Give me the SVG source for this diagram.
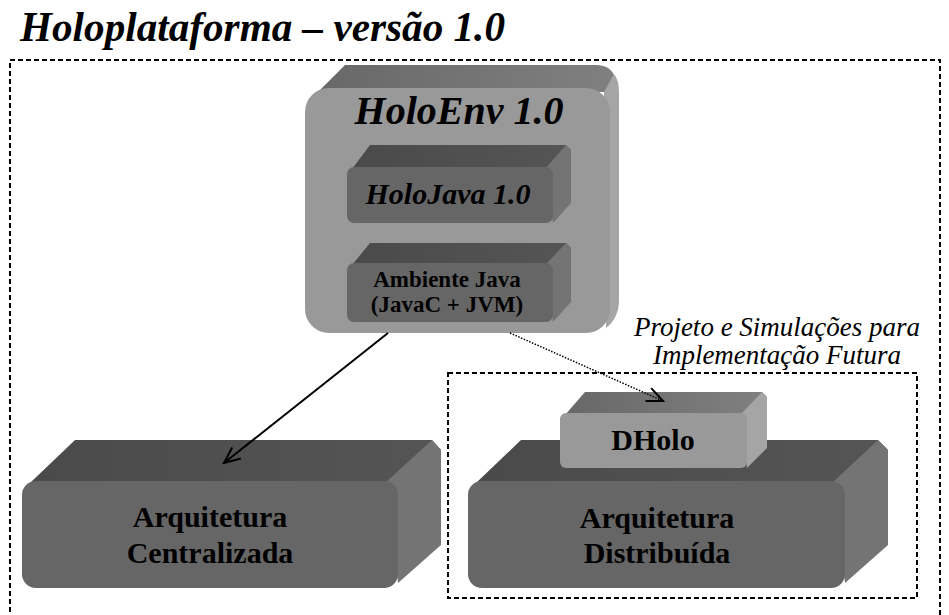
<svg xmlns="http://www.w3.org/2000/svg" width="949" height="615" viewBox="0 0 949 615">
<style>
.t{font-family:"Liberation Serif","Times New Roman",serif;fill:#000;text-anchor:middle}
.b{font-weight:bold}
.i{font-style:italic}
.dash{fill:none;stroke:#000;stroke-width:2;stroke-dasharray:5,3}
.light .f{fill:#999}.light .tp{fill:url(#gTopL)}.light .sd{fill:#a5a5a5}
.dark .f{fill:#666}.dark .tp{fill:url(#gTopD)}.dark .sd{fill:#747474}
</style>
<defs>
<linearGradient id="gTopL" x1="0" y1="0" x2="1" y2="0"><stop offset="0" stop-color="#686868"/><stop offset="1" stop-color="#808080"/></linearGradient>
<linearGradient id="gTopD" x1="0" y1="0" x2="1" y2="0"><stop offset="0" stop-color="#4a4a4a"/><stop offset="1" stop-color="#555"/></linearGradient>
<marker id="arr" viewBox="0 0 20 20" refX="18" refY="10" markerWidth="20" markerHeight="20" markerUnits="userSpaceOnUse" orient="auto"><path d="M2,3 L18,10 L2,17" fill="none" stroke="#000" stroke-width="2"/></marker>
</defs>
<rect width="949" height="615" fill="#fff"/>
<text class="t b i" x="20" y="41" font-size="42" style="text-anchor:start" textLength="485" lengthAdjust="spacingAndGlyphs">Holoplataforma – versão 1.0</text>
<rect class="dash" x="10" y="60" width="930" height="570"/>
<rect class="dash" x="448" y="373" width="469" height="225"/>

<g id="holoenv" class="light">
<path class="tp" d="M318,92 L345,65 L596,65 Q612,65 616,80 L612,92 Z"/>
<path class="sd" d="M604,92 L614,74 Q619,80 619,92 L619,300 Q619,318 606,328 Z"/>
<rect class="f" x="305" y="88" width="305" height="245" rx="24"/>
<text class="t b i" x="459" y="124" font-size="40">HoloEnv 1.0</text>
</g>
<g id="holojava" class="dark">
<polygon class="tp" points="352,169 370,145 566,145 571,150 553,169"/>
<polygon class="sd" points="545,169 566,145 571,150 571,203 553,223"/>
<rect class="f" x="347" y="167" width="206" height="56" rx="7"/>
<text class="t b i" x="448" y="204" font-size="30">HoloJava 1.0</text>
</g>
<g id="ambiente" class="dark">
<polygon class="tp" points="352,265 370,243 566,243 571,248 553,265"/>
<polygon class="sd" points="545,265 566,243 571,248 571,302 553,322"/>
<rect class="f" x="347" y="263" width="206" height="59" rx="7"/>
<text class="t b" x="447" y="287" font-size="23">Ambiente Java</text>
<text class="t b" x="447" y="312" font-size="23">(JavaC + JVM)</text>
</g>
<g id="centralizada" class="dark">
<polygon class="tp" points="30,483 75,440 432,440 441,450 398,483"/>
<polygon class="sd" points="385,483 432,440 441,450 441,545 398,583"/>
<rect class="f" x="22" y="481" width="376" height="107" rx="14"/>
<text class="t b" x="210" y="527" font-size="30">Arquitetura</text>
<text class="t b" x="210" y="563" font-size="30">Centralizada</text>
</g>
<g id="distribuida" class="dark">
<polygon class="tp" points="476,483 521,440 878,440 888,450 845,483"/>
<polygon class="sd" points="832,483 878,440 888,450 888,545 845,583"/>
<rect class="f" x="468" y="481" width="377" height="107" rx="14"/>
<text class="t b" x="657" y="528" font-size="30">Arquitetura</text>
<text class="t b" x="657" y="563" font-size="30">Distribuída</text>
</g>
<g id="dholo" class="light">
<polygon class="tp" points="565,415 585,392 762,392 767,397 747,415"/>
<polygon class="sd" points="740,415 762,392 767,397 767,448 747,468"/>
<rect class="f" x="560" y="413" width="187" height="55" rx="6"/>
<text class="t b" x="653" y="450" font-size="30">DHolo</text>
</g>
<g id="note">
<text class="t i" x="777" y="336" font-size="27">Projeto e Simulações para</text>
<text class="t i" x="777" y="364" font-size="27">Implementação Futura</text>
</g>
<g id="connectors">
<line x1="388" y1="333" x2="224" y2="463" stroke="#000" stroke-width="2" marker-end="url(#arr)"/>
<line x1="510" y1="333" x2="663" y2="401" stroke="#000" stroke-width="1.5" stroke-dasharray="1.5,1.5" marker-end="url(#arr)"/>
</g>
</svg>
